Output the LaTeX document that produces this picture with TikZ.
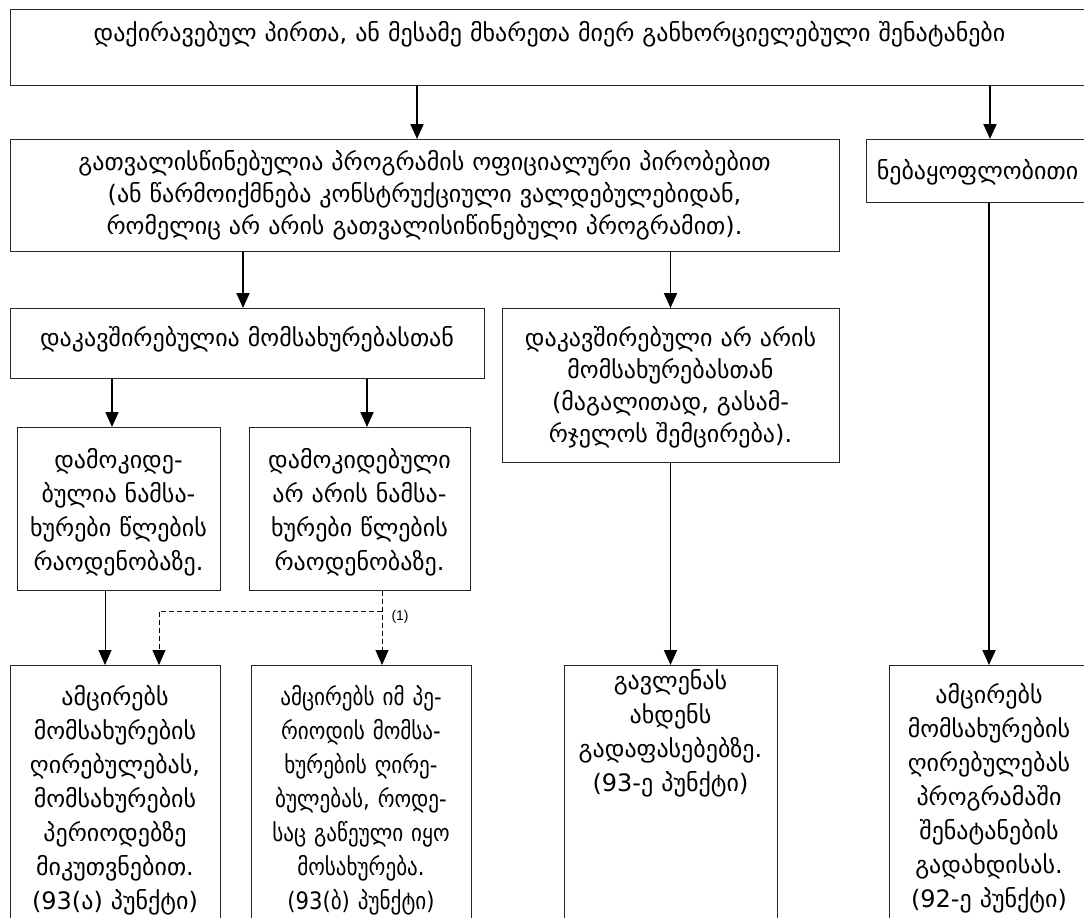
\documentclass[tikz,border=0pt]{standalone}
\usepackage{fontspec}
\usepackage{tikz}
\usetikzlibrary{arrows.meta,calc,positioning}
\newfontfamily\geofont{DejaVu Sans}
\newfontfamily\geoserre[FakeStretch=0.88]{DejaVu Sans}
\newfontfamily\labfont{Liberation Sans}

\begin{document}
\begin{tikzpicture}[
	x=1pt, y=-1pt,
	boite/.style={draw=black!85, rectangle, line width=0.8pt, anchor=north, align=center, inner xsep=4pt, inner ysep=0pt, font=\geofont\fontsize{24pt}{34pt}\selectfont},
	serre/.style={font=\geofont\fontsize{24pt}{32pt}\selectfont}, % interligne plus court
	fleche/.style={-{Triangle[length=15pt,width=13pt]}, line width=1.9pt}, % flèches pleines
	fin/.style={-{Triangle[length=15pt,width=13pt]}, line width=1pt},
	pointille/.style={-{Triangle[length=15pt,width=13pt]}, line width=1pt, dash pattern=on 5pt off 3pt},
	etiq/.style={font=\labfont\fontsize{14pt}{16pt}\selectfont, inner sep=1pt}
	]
	\fill[white] (0,0) rectangle (1084,918);
	\useasboundingbox (0,0) rectangle (1084,918);
	\clip (0,0) rectangle (1084,918);

	% Les boîtes
	\node[boite, text width=1071pt, text height=32pt, text depth=44pt] (T) at (549.5, 9) {დაქირავებულ პირთა, ან მესამე მხარეთა მიერ განხორციელებული შენატანები};
	\node[boite, serre, text width=821pt, text height=31pt, text depth=81pt] (P) at (424.5, 139) {გათვალისწინებულია პროგრამის ოფიციალური პირობებით\\(ან წარმოიქმნება კონსტრუქციული ვალდებულებიდან,\\რომელიც არ არის გათვალისიწინებული პროგრამით).};
	\node[boite, text width=215pt, text height=40pt, text depth=23pt] (V) at (977.5, 139) {ნებაყოფლობითი};
	\node[boite, text width=466pt, text height=38pt, text depth=32pt] (S) at (247, 308) {დაკავშირებულია მომსახურებასთან};
	\node[boite, serre, text width=329pt, text height=38pt, text depth=116pt] (N) at (670.5, 308) {დაკავშირებული არ არის\\მომსახურებასთან\\(მაგალითად, გასამ-\\რჯელოს შემცირება).};
	\node[boite, text width=195pt, text height=41pt, text depth=122pt] (D1) at (118.5, 427) {დამოკიდე-\\ბულია ნამსა-\\ხურები წლების\\რაოდენობაზე.};
	\node[boite, text width=213pt, text height=41pt, text depth=122pt] (D2) at (359.5, 427) {დამოკიდებული\\არ არის ნამსა-\\ხურები წლების\\რაოდენობაზე.};
	\node[boite, text width=202pt, text height=40pt, text depth=235pt] (A) at (115, 665) {ამცირებს\\მომსახურების\\ღირებულებას,\\მომსახურების\\პერიოდებზე\\მიკუთვნებით.\\(93(ა) პუნქტი)};
	\node[boite, font=\geoserre\fontsize{24pt}{34pt}\selectfont, inner xsep=0pt, text width=220pt, text height=40pt, text depth=235pt] (B) at (361, 665) {ამცირებს იმ პე-\\რიოდის მომსა-\\ხურების ღირე-\\ბულებას, როდე-\\საც გაწეული იყო\\მოსახურება.\\(93(ბ) პუნქტი)};
	\node[boite, text width=205pt, text height=24pt, text depth=251pt] (C) at (670.5, 665) {გავლენას\\ახდენს\\გადაფასებებზე.\\(93-ე პუნქტი)};
	\node[boite, text width=192pt, text height=38pt, text depth=237pt] (E) at (989, 665) {ამცირებს\\მომსახურების\\ღირებულებას\\პროგრამაში\\შენატანების\\გადახდისას.\\(92-ე პუნქტი)};

	% Les flèches
	\draw[fleche] ([xshift=-7.5pt]P.north |- T.south) -- ([xshift=-7.5pt]P.north);
	\draw[fleche] ([xshift=12.5pt]V.north |- T.south) -- ([xshift=12.5pt]V.north);
	\draw[fleche] ([xshift=-4pt]S.north |- P.south) -- ([xshift=-4pt]S.north);
	\draw[fleche] (N.north |- P.south) -- (N.north);
	\draw[fleche] ([xshift=-6.5pt]D1.north |- S.south) -- ([xshift=-6.5pt]D1.north);
	\draw[fleche] ([xshift=7.5pt]D2.north |- S.south) -- ([xshift=7.5pt]D2.north);
	\draw[fin] ([xshift=-10pt]A.north |- D1.south) -- ([xshift=-10pt]A.north);
	\draw[fleche] (C.north |- N.south) -- (C.north);
	\draw[fleche] (E.north |- V.south) -- (E.north);

	% Renvoi (1)
	\draw[pointille] ([xshift=21pt]B.north |- D2.south) -- node[etiq, pos=0.35, right=8pt] (un) {(1)} ([xshift=21pt]B.north);
	\coordinate (emb) at ([xshift=21pt]B.north |- 0,611);
	\draw[pointille] (emb) -| ([xshift=44pt]A.north);
\end{tikzpicture}
\end{document}
